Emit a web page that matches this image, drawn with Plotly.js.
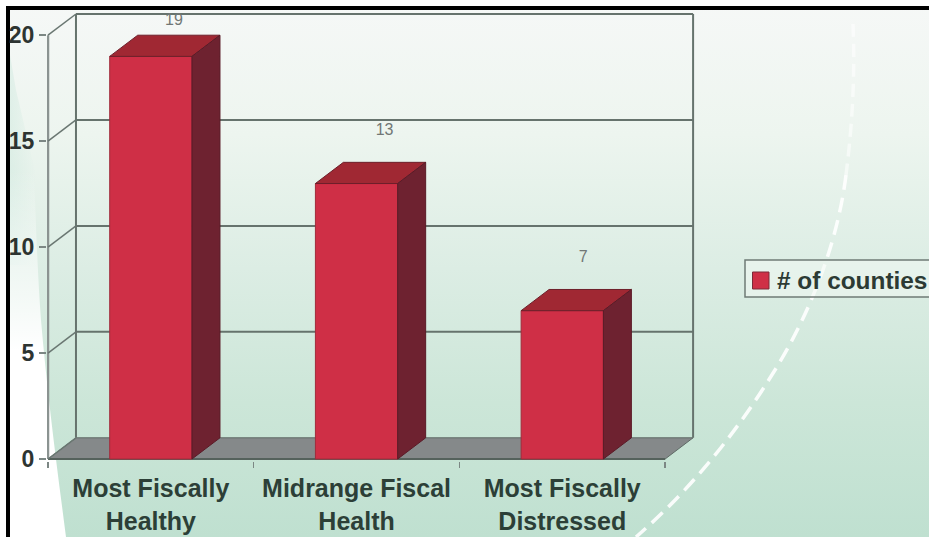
<!DOCTYPE html>
<html>
<head>
<meta charset="utf-8">
<script src="https://cdn.plot.ly/plotly-3.0.1.min.js"></script>
<style>
  html, body { margin: 0; padding: 0; background: #fff; overflow: hidden; }
  #stage { position: relative; width: 929px; height: 537px; overflow: hidden; }
  #backdrop, #chart { position: absolute; left: 0; top: 0; }
</style>
</head>
<body>
<div id="stage">
  <svg id="backdrop" width="929" height="537" viewBox="0 0 929 537">
    <defs>
      <linearGradient id="wash" x1="0" y1="0" x2="0" y2="1">
        <stop offset="0" stop-color="#f6f8f7"/>
        <stop offset="0.25" stop-color="#edf5ef"/>
        <stop offset="0.5" stop-color="#dcede4"/>
        <stop offset="0.75" stop-color="#cce6d8"/>
        <stop offset="1" stop-color="#bfe0d0"/>
      </linearGradient>
      <linearGradient id="wedgeFade" x1="0" y1="170" x2="0" y2="350" gradientUnits="userSpaceOnUse">
        <stop offset="0" stop-color="#ffffff" stop-opacity="0"/>
        <stop offset="1" stop-color="#ffffff" stop-opacity="1"/>
      </linearGradient>
      <linearGradient id="edgeTint" x1="10" y1="0" x2="36" y2="0" gradientUnits="userSpaceOnUse">
        <stop offset="0" stop-color="#cfe9df" stop-opacity="0.5"/>
        <stop offset="1" stop-color="#cfe9df" stop-opacity="0"/>
      </linearGradient>
    </defs>
    <rect x="0" y="0" width="929" height="537" fill="url(#wash)"/>
    <path d="M10 55 L16 90 L36 175 L36 265 L10 265 Z" fill="url(#edgeTint)"/>
    <path d="M10 170 L34 170 C36 230 38 280 41 320 C47 390 56 460 66 537 L10 537 Z" fill="url(#wedgeFade)"/>
    <path d="M853 24 C855 70 853 120 846 175" fill="none" stroke="#ffffff" stroke-opacity="0.55" stroke-width="3.5" stroke-dasharray="13 7"/>
    <path d="M846 175 C838 240 812 310 775 370 C735 435 690 490 636 537" fill="none" stroke="#ffffff" stroke-opacity="0.9" stroke-width="3.5" stroke-dasharray="15 8"/>
    <rect x="0" y="0" width="929" height="6" fill="#ffffff"/>
    <rect x="0" y="0" width="6" height="537" fill="#ffffff"/>
    <rect x="6" y="6" width="923" height="4" fill="#000000"/>
    <rect x="6" y="6" width="4" height="531" fill="#000000"/>
  </svg>
  <div id="chart"></div>
</div>
<script>
// County counts by fiscal health group
const categories = ['Most Fiscally<br>Healthy', 'Midrange Fiscal<br>Health', 'Most Fiscally<br>Distressed'];
const counties = [19, 13, 7];
const seriesName = '# of counties';
const yTicks = [0, 5, 10, 15, 20];

// Oblique projection of the box: how far the back plane sits from the front, in axis units
const depthX = 0.136;
const depthY = 1;
const barWidth = 0.4;
const xStart = -0.5;
const xEnd = 2.5;
const yTop = 20;

const frameColor = '#66736d';
const frontRed = '#cf2f46';
const topRed = '#a02833';
const sideRed = '#6e2230';

const positions = counties.map((_, i) => i);

function lineShape(x0, y0, x1, y1, color, width) {
  return { type: 'line', xref: 'x', yref: 'y', layer: 'below', x0, y0, x1, y1,
           line: { color: color || frameColor, width: width || 2 } };
}

// Floor, back wall, side wall diagonals and wall grid, all behind the bars
const wallShapes = [
  { type: 'path', xref: 'x', yref: 'y', layer: 'below',
    path: `M${xStart},0 L${xStart + depthX},${depthY} L${xEnd + depthX},${depthY} L${xEnd},0 Z`,
    fillcolor: '#85898a', line: { color: '#5f6a66', width: 1 } },
  lineShape(xStart, 0, xStart, yTop, '#8b9391', 2.5),
  lineShape(xStart + depthX, depthY, xStart + depthX, yTop + depthY),
  lineShape(xEnd + depthX, depthY, xEnd + depthX, yTop + depthY),
  lineShape(xStart, 0, xEnd, 0, '#55625c', 2)
];
yTicks.forEach(v => {
  wallShapes.push(lineShape(xStart, v, xStart + depthX, v + depthY, '#6a7772', 1.5));
  if (v > 0) wallShapes.push(lineShape(xStart + depthX, v + depthY, xEnd + depthX, v + depthY));
});

// Legend box and swatch, positioned in page pixels converted to paper fractions
const plotLeft = 47, plotWidth = 648, plotTop = 12, plotHeight = 449;
const px = x => (x - plotLeft) / plotWidth;
const py = y => 1 - (y - plotTop) / plotHeight;
const legendShapes = [
  { type: 'rect', xref: 'paper', yref: 'paper', layer: 'below',
    x0: px(745), x1: px(945), y0: py(297), y1: py(260),
    fillcolor: 'rgba(240,247,243,0.55)', line: { color: '#6f7b76', width: 1.5 } },
  { type: 'rect', xref: 'paper', yref: 'paper', layer: 'above',
    x0: px(752.5), x1: px(769), y0: py(289), y1: py(272),
    fillcolor: frontRed, line: { color: '#7c2a38', width: 1 } }
];

const frontBars = {
  type: 'bar', x: positions, y: counties, width: barWidth, name: seriesName,
  marker: { color: frontRed, line: { color: '#a02c3b', width: 1 } },
  hoverinfo: 'y', showlegend: false
};

const topFaces = {
  type: 'scatter', mode: 'lines', fill: 'toself', fillcolor: topRed, hoverinfo: 'skip',
  line: { color: '#6d1f2a', width: 1 }, showlegend: false,
  x: [], y: []
};
const sideFaces = {
  type: 'scatter', mode: 'lines', fill: 'toself', fillcolor: sideRed, hoverinfo: 'skip',
  line: { color: '#5a1b27', width: 1 }, showlegend: false,
  x: [], y: []
};
counties.forEach((v, i) => {
  const l = i - barWidth / 2, r = i + barWidth / 2;
  topFaces.x.push(l, l + depthX, r + depthX, r, l, null);
  topFaces.y.push(v, v + depthY, v + depthY, v, v, null);
  sideFaces.x.push(r, r + depthX, r + depthX, r, r, null);
  sideFaces.y.push(v, v + depthY, depthY, 0, v, null);
});

// Count labels sit above the back of each box, held inside the top of the frame
const labelNudge = [0.112, 0.136, 0.102];
const valueLabels = {
  type: 'scatter', mode: 'text', hoverinfo: 'skip', showlegend: false,
  x: positions.map((p, i) => p + labelNudge[i]),
  y: counties.map(v => Math.min(v + 2.5, 20.67)),
  text: counties.map(String),
  textposition: 'middle center',
  textfont: { family: 'Liberation Sans, Arial, sans-serif', size: 16, color: '#717775' },
  cliponaxis: false
};

const layout = {
  width: 929, height: 537,
  margin: { l: plotLeft, r: 929 - plotLeft - plotWidth, t: plotTop, b: 537 - plotTop - plotHeight, pad: 0 },
  paper_bgcolor: 'rgba(0,0,0,0)',
  plot_bgcolor: 'rgba(0,0,0,0)',
  showlegend: false,
  xaxis: {
    range: [-0.50486, 2.6453], showgrid: false, zeroline: false, showline: false,
    tickmode: 'array', tickvals: positions, ticktext: categories,
    ticks: '', ticklabelstandoff: 10,
    tickfont: { family: 'Liberation Sans, Arial, sans-serif', size: 25, color: '#2c3f37', weight: 700 },
    minor: { tickmode: 'array', tickvals: [-0.5, 0.5, 1.5, 2.5], ticks: 'outside', ticklen: 6, tickwidth: 1.5, tickcolor: '#7c8784', showgrid: false }
  },
  yaxis: {
    range: [-0.0944, 21.095], showgrid: false, zeroline: false, showline: false,
    tickmode: 'array', tickvals: yTicks, ticktext: yTicks.map(String),
    ticks: 'outside', ticklen: 7, tickwidth: 1.5, tickcolor: '#7c8784',
    tickfont: { family: 'Liberation Sans, Arial, sans-serif', size: 23, color: '#2d3431', weight: 700 }
  },
  shapes: wallShapes.concat(legendShapes),
  annotations: [{
    xref: 'paper', yref: 'paper', x: px(775), y: py(280.5),
    xanchor: 'left', yanchor: 'middle', showarrow: false, align: 'left',
    text: seriesName,
    font: { family: 'Liberation Sans, Arial, sans-serif', size: 24.4, color: '#2c3a34', weight: 700 }
  }]
};

Plotly.newPlot('chart', [frontBars, topFaces, sideFaces, valueLabels], layout, { displayModeBar: false, staticPlot: true });
</script>
</body>
</html>
